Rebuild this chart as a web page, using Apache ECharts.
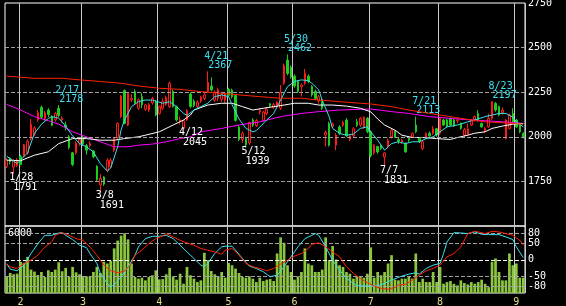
<!DOCTYPE html>
<html>
<head>
<meta charset="utf-8">
<script src="https://cdn.jsdelivr.net/npm/echarts@6/dist/echarts.min.js"></script>
<style>
  html, body { margin: 0; padding: 0; background: #000; }
  #chart { width: 566px; height: 306px; }
</style>
</head>
<body>
<div id="chart"></div>
<script>
// 営業日
var dates = [
  '1/26','1/27','1/28','1/31',
  '2/1','2/2','2/3','2/4','2/7','2/8','2/9','2/10','2/14','2/15','2/16','2/17','2/18','2/21','2/22','2/24','2/25','2/28',
  '3/1','3/2','3/3','3/4','3/7','3/8','3/9','3/10','3/11','3/14','3/15','3/16','3/17','3/18','3/22','3/23','3/24','3/25','3/28','3/29','3/30','3/31',
  '4/1','4/4','4/5','4/6','4/7','4/8','4/11','4/12','4/13','4/14','4/15','4/18','4/19','4/20','4/21','4/22','4/25','4/26','4/27','4/28',
  '5/2','5/6','5/9','5/10','5/11','5/12','5/13','5/16','5/17','5/18','5/19','5/20','5/23','5/24','5/25','5/26','5/27','5/30','5/31',
  '6/1','6/2','6/3','6/6','6/7','6/8','6/9','6/10','6/13','6/14','6/15','6/16','6/17','6/20','6/21','6/22','6/23','6/24','6/27','6/28','6/29','6/30',
  '7/1','7/4','7/5','7/6','7/7','7/8','7/11','7/12','7/13','7/14','7/15','7/19','7/20','7/21','7/22','7/25','7/26','7/27','7/28','7/29',
  '8/1','8/2','8/3','8/4','8/5','8/8','8/9','8/10','8/12','8/15','8/16','8/17','8/18','8/19','8/22','8/23','8/24','8/25','8/26','8/29','8/30','8/31',
  '9/1','9/2','9/5'
];

// 四本値
var opens = [1835,1880,1830,1840,1890,1890,1910,1990,2015,2095,2165,2100,2150,2115,2095,2160,2095,2065,2000,1910,1910,1965,
  1995,1950,1950,1920,1835,1730,1775,1813,1835,1925,1996,2113,2260,2066,2207,2254,2160,2226,2154,2150,2190,2197,
  2131,2160,2180,2169,2254,2169,2085,2047,2094,2240,2200,2170,2200,2215,2255,2285,2205,2216,2210,2205,
  2266,2262,2232,2054,1985,1990,1965,2095,2063,2140,2092,2130,2185,2165,2170,2160,2300,2430,2390,
  2340,2310,2280,2300,2340,2282,2255,2200,2207,2010,2075,2060,1953,2055,2065,2094,1985,2005,2085,2066,2050,2104,
  2028,1910,1945,1950,1887,1943,2000,2030,1985,1970,1962,1990,2000,2066,1990,1934,1995,2020,2020,2045,
  2019,2094,2094,2103,2094,2090,2075,2009,2015,2066,2094,2131,2075,2030,2056,2103,2188,2170,2135,1990,2047,2131,
  2094,2066,2019];
var closes = [1870,1860,1868,1870,1845,1955,1975,2070,2050,2135,2110,2135,2125,2065,2130,2120,2105,2055,1940,1845,1965,1985,
  1960,1925,1962,1888,1760,1766,1735,1869,1870,1991,2075,2229,2075,2244,2215,2188,2207,2179,2179,2180,2215,2122,
  2169,2197,2220,2301,2169,2094,2095,2090,2147,2170,2175,2195,2220,2235,2305,2263,2250,2263,2235,2240,
  2232,2225,2092,1985,2020,1955,2080,2065,2091,2148,2138,2155,2175,2180,2195,2250,2400,2355,2335,
  2285,2255,2290,2357,2310,2235,2215,2225,2160,2025,1953,2072,2010,2020,2080,2005,2005,2045,2065,2104,2110,2028,
  1895,1953,1915,1935,1910,1981,2037,2000,1975,1980,1916,1980,2019,2028,1975,1972,2019,2005,2045,2010,
  2103,2066,2060,2066,2060,2094,2047,2041,2045,2094,2113,2094,2056,2047,2103,2197,2150,2122,2150,2094,2122,2084,
  2056,2028,1996];
var lows = [1825,1845,1791,1830,1840,1885,1900,1980,2005,2085,2100,2090,2110,2060,2085,2110,2080,2035,1930,1835,1900,1950,
  1950,1900,1940,1880,1750,1691,1725,1800,1825,1915,1985,2105,2070,2060,2195,2180,2150,2160,2145,2140,2180,2115,
  2125,2150,2175,2160,2165,2085,2070,2045,2090,2160,2165,2160,2190,2205,2245,2255,2195,2200,2195,2190,
  2225,2215,2085,1975,1965,1939,1955,2055,2055,2125,2085,2120,2165,2155,2160,2150,2290,2345,2325,
  2275,2245,2225,2290,2300,2225,2205,2185,2150,1945,1945,2050,1925,2010,2055,2000,1975,1995,2055,2055,2045,2020,
  1885,1900,1905,1925,1831,1935,1990,1995,1960,1960,1910,1970,1995,2020,1965,1925,1990,2000,2010,2000,
  2010,2060,2050,2060,2055,2075,2040,2000,2005,2060,2085,2085,2050,2020,2050,2095,2140,2115,2125,1985,2040,2075,
  2050,2020,1990];
var highs = [1880,1885,1875,1880,1900,1960,1985,2100,2060,2150,2175,2145,2160,2120,2140,2178,2115,2085,2010,1915,1975,2000,
  2005,1960,1975,1925,1840,1790,1780,1880,1880,2000,2080,2235,2265,2250,2240,2267,2215,2245,2185,2190,2225,2205,
  2175,2215,2230,2310,2265,2175,2115,2095,2155,2250,2210,2205,2230,2245,2367,2333,2260,2275,2245,2250,
  2275,2270,2240,2065,2030,2000,2085,2105,2100,2160,2145,2165,2190,2190,2200,2290,2410,2462,2400,
  2350,2315,2300,2380,2350,2290,2265,2235,2215,2035,2085,2080,2020,2065,2090,2105,2012,2055,2100,2110,2115,2110,
  2035,1960,1950,1955,1915,1990,2045,2035,1995,1990,1970,2000,2025,2113,1995,1980,2025,2030,2060,2050,
  2110,2100,2100,2110,2100,2105,2080,2050,2075,2100,2120,2150,2080,2055,2130,2197,2195,2175,2165,2100,2130,2160,
  2100,2070,2025];

// 出来高
var volumes = [1600,2010,1880,1940,3130,3030,3630,2350,2150,1810,2110,1610,2280,2110,2350,3090,2180,2520,1670,2620,2080,1880,
  1710,1670,1670,2110,2620,2010,3130,2960,3230,4480,5260,5760,6000,5390,2960,1610,1440,1540,1270,1610,1780,2280,
  1370,1400,1880,2520,1670,1340,1940,930,2620,1780,1440,1100,1270,4040,3300,2210,1880,1670,2110,1540,
  3030,2790,2450,2010,1610,1540,1670,1440,1100,1540,1200,1340,1400,1200,3970,5590,5050,2790,2110,
  1340,1670,2110,4480,2960,2790,2110,2110,2350,5590,3300,4720,3360,2790,2620,2110,1940,1440,1670,1610,1540,1940,
  4580,1540,2110,1780,2110,2960,3800,1340,1270,1440,1440,1670,1440,3970,1100,1440,1100,1100,2110,1100,
  2620,930,1100,1200,930,760,1270,1000,860,1100,930,1100,1340,930,590,3130,3470,2110,1270,1270,3970,2790,
  2960,1540,1540];

// 移動平均線 [日番号, 値]
var maShort = [[0,1891],[3,1850],[6,1910],[8,2020],[10,2070],[12,2103],[13,2113],[15,2105],[17,2060],[19,2005],[21,1962],
  [23,1944],[25,1915],[27,1850],[29,1808],[30,1825],[32,1944],[33,2040],[34,2094],[36,2169],[38,2197],[40,2206],
  [42,2206],[45,2188],[47,2197],[49,2169],[51,2131],[52,2120],[54,2150],[56,2169],[58,2188],[60,2225],[62,2235],
  [64,2225],[65,2180],[67,2100],[69,2047],[71,2028],[72,2035],[75,2094],[77,2131],[79,2206],[81,2281],[83,2310],
  [85,2319],[87,2315],[88,2300],[90,2263],[91,2206],[93,2113],[94,2047],[96,2019],[98,2009],[100,2015],[102,2047],
  [104,2056],[105,2028],[107,1981],[109,1925],[111,1962],[113,1972],[115,1962],[117,1972],[119,1972],[121,1990],
  [123,2000],[125,2028],[127,2056],[130,2066],[133,2084],[136,2100],[138,2113],[140,2122],[142,2131],[144,2131],
  [146,2110],[147,2084],[149,2056]];
var maMid = [[0,1869],[4,1866],[8,1897],[12,1916],[15,1962],[19,1990],[23,1990],[27,1981],[31,1981],[34,1990],[38,2000],
  [40,2009],[44,2028],[48,2066],[51,2094],[53,2122],[54,2150],[58,2178],[62,2188],[65,2188],[68,2169],[71,2150],
  [74,2160],[77,2169],[80,2178],[83,2188],[87,2188],[90,2178],[94,2178],[98,2172],[102,2160],[105,2140],[107,2100],
  [109,2066],[112,2037],[114,2009],[117,1996],[120,1996],[124,1990],[128,1985],[130,1996],[133,2009],[135,2020],
  [138,2028],[140,2047],[143,2060],[146,2071],[149,2075]];
var maLong = [[0,2182],[4,2150],[8,2113],[12,2090],[15,2071],[19,2028],[23,2000],[27,1972],[31,1944],[35,1944],[38,1953],
  [42,1959],[46,1972],[50,1990],[53,2000],[56,2028],[62,2047],[67,2066],[73,2084],[79,2113],[85,2131],[90,2141],
  [96,2150],[102,2154],[105,2156],[111,2141],[116,2131],[122,2113],[128,2103],[134,2094],[138,2090],[143,2084],[149,2075]];
var maYear = [[0,2340],[8,2328],[16,2328],[21,2319],[27,2310],[33,2300],[38,2285],[44,2272],[50,2266],[56,2253],[62,2244],
  [67,2235],[73,2225],[79,2216],[85,2216],[90,2206],[96,2197],[102,2188],[105,2184],[111,2169],[116,2150],[122,2131],
  [128,2113],[134,2094],[138,2084],[143,2079],[149,2071]];

// オシレーター [日番号, 値]
var oscFast = [[0,-12],[1,-28],[3,-33],[5,-16],[7,19],[9,49],[11,74],[13,74],[15,81],[16,82],[17,74],[19,61],[21,44],
  [23,37],[24,19],[26,-11],[27,-41],[29,-71],[30,-81],[31,-76],[33,-51],[35,-21],[37,14],[38,39],[40,64],[42,71],
  [44,71],[46,74],[48,64],[50,44],[52,24],[54,4],[56,-16],[57,-21],[58,-11],[60,19],[62,39],[63,41],[65,41],[66,29],
  [68,4],[70,-19],[72,-26],[74,-36],[76,-51],[78,-46],[80,-21],[82,9],[84,39],[86,64],[88,74],[89,79],[90,74],
  [92,39],[94,-1],[96,-31],[98,-56],[100,-71],[101,-78],[103,-79],[105,-79],[107,-78],[109,-71],[111,-61],[113,-53],
  [114,-49],[116,-43],[118,-39],[119,-43],[121,-26],[123,-16],[125,-11],[126,19],[127,54],[129,82],[131,81],
  [133,79],[135,84],[137,77],[139,76],[142,76],[144,69],[146,61],[147,39],[149,7]];
var oscSlow = [[0,-12],[1,-21],[3,-26],[5,-11],[7,-1],[9,14],[11,39],[13,54],[14,74],[16,82],[18,74],[20,64],[22,59],
  [24,39],[26,14],[28,-16],[30,-33],[32,-39],[34,-34],[36,-11],[37,14],[39,29],[41,49],[43,64],[45,72],[46,79],
  [48,69],[50,59],[52,51],[54,44],[56,34],[58,29],[60,24],[62,17],[63,29],[65,34],[67,14],[69,-11],[71,-21],[73,-26],
  [75,-33],[77,-26],[79,-13],[81,-1],[83,11],[85,19],[87,34],[88,47],[90,51],[92,39],[94,24],[96,9],[98,-21],
  [100,-41],[102,-56],[104,-69],[106,-79],[108,-86],[110,-89],[112,-83],[113,-76],[115,-74],[117,-61],[119,-46],
  [121,-33],[123,-26],[125,-16],[127,9],[129,19],[131,39],[133,79],[135,86],[137,82],[138,79],[140,86],[142,84],
  [144,79],[146,74],[148,59],[149,44]];
var oscLevels = [80, 50, 0, -50, -80];
var priceLevels = [1750, 2000, 2250, 2500];

// 高値・安値の注記
var highMarks = [['2/17', 2178], ['4/21', 2367], ['5/30', 2462], ['7/21', 2113], ['8/23', 2197]];
var lowMarks = [['1/28', 1791], ['3/8', 1691], ['4/12', 2045], ['5/12', 1939], ['7/7', 1831]];

var MONO = 'DejaVu Sans Mono';
var CYAN = '#3ce0f0';
var GRAY = '#a0a0a0';

// 月初かどうか
function monthStart(index) {
  if (index === 0) return false;
  return dates[index].split('/')[0] !== dates[index - 1].split('/')[0];
}

var candles = dates.map(function (d, i) {
  return [opens[i], closes[i], lows[i], highs[i]];
});

function noteLabel(m, color, pos, lh) {
  return {
    show: true,
    position: pos,
    align: 'left',
    verticalAlign: 'top',
    formatter: '{d|' + m[0] + '}\n{v|' + m[1] + '}',
    rich: {
      d: { color: color, fontSize: 10, fontFamily: MONO, lineHeight: lh },
      v: { color: color, fontSize: 10, fontFamily: MONO, lineHeight: lh, padding: [0, 0, 0, 4] }
    }
  };
}

// 破線の水平線
function levelLines(levels, showLabel) {
  return {
    silent: true, symbol: ['none', 'none'],
    label: { show: showLabel, position: 'end', distance: 3, color: '#fff', fontSize: 10, fontFamily: MONO, formatter: '{c}' },
    data: levels.map(function (v) {
      return { yAxis: v, lineStyle: { color: v === 0 ? '#fff' : GRAY, type: 'dashed', dashOffset: 0, width: 1 } };
    })
  };
}

var chart = echarts.init(document.getElementById('chart'));

var option = {
  backgroundColor: '#000',
  animation: false,
  grid: [
    { left: 5, right: 41, top: 3, height: 223, show: true, borderColor: '#fff', borderWidth: 1, outerBoundsMode: 'none' },
    { left: 5, right: 41, top: 226, height: 67, show: true, borderColor: '#fff', borderWidth: 1, outerBoundsMode: 'none' }
  ],
  xAxis: [
    {
      type: 'category', gridIndex: 0, data: dates, boundaryGap: true,
      axisLine: { show: false }, axisTick: { show: false }, axisLabel: { show: false },
      splitLine: { show: true, interval: monthStart, lineStyle: { color: '#c8c8c8', width: 1 } }
    },
    {
      type: 'category', gridIndex: 1, data: dates, boundaryGap: true,
      axisLine: { show: false }, axisTick: { show: false },
      axisLabel: {
        interval: monthStart, margin: 4, color: '#e8de8a', fontSize: 10, fontFamily: MONO,
        formatter: function (v) { return v.split('/')[0]; }
      },
      splitLine: { show: true, interval: monthStart, lineStyle: { color: '#c8c8c8', width: 1 } }
    }
  ],
  yAxis: [
    {
      type: 'value', gridIndex: 0, position: 'right', min: 1500, max: 2750, interval: 250,
      axisLine: { show: false }, axisTick: { show: false },
      splitLine: { show: true, showMinLine: false, showMaxLine: false, lineStyle: { color: GRAY, type: 'dashed', width: 1 } },
      axisLabel: {
        color: '#fff', fontSize: 10, fontFamily: MONO, margin: 3, showMinLabel: false,
        formatter: function (v) { return String(v); }
      }
    },
    {
      type: 'value', gridIndex: 1, position: 'right', min: -100, max: 102, show: false
    },
    {
      type: 'value', gridIndex: 1, position: 'left', min: 0, max: 6730, interval: 6000,
      axisLine: { show: false }, axisTick: { show: false }, splitLine: { show: false },
      axisLabel: {
        inside: true, margin: 3, color: '#fff', fontSize: 10, fontFamily: MONO,
        formatter: function (v) { return v === 6000 ? '6000' : ''; }
      }
    }
  ],
  series: [
    {
      type: 'line', xAxisIndex: 0, yAxisIndex: 0, data: maYear, showSymbol: false, z: 10,
      lineStyle: { color: '#ff2200', width: 1 },
      markLine: levelLines(priceLevels, false)
    },
    {
      type: 'candlestick', xAxisIndex: 0, yAxisIndex: 0, data: candles, barWidth: 2, z: 2,
      itemStyle: { color: '#000', color0: '#1ecb1e', borderColor: '#ff1a1a', borderColor0: '#1ecb1e', borderWidth: 1 },
      markPoint: {
        symbol: 'circle', symbolSize: 1, silent: true,
        itemStyle: { color: 'rgba(0,0,0,0)' },
        data: highMarks.map(function (m) {
          return { coord: [m[0], m[1]], label: noteLabel(m, CYAN, [-3, -19], 9) };
        }).concat(lowMarks.map(function (m) {
          return { coord: [m[0], m[1]], label: noteLabel(m, '#fff', [-4, -1], 10) };
        }))
      }
    },
    { type: 'line', xAxisIndex: 0, yAxisIndex: 0, data: maLong, showSymbol: false, z: 3, lineStyle: { color: '#ff00ff', width: 1 } },
    { type: 'line', xAxisIndex: 0, yAxisIndex: 0, data: maMid, showSymbol: false, z: 3, lineStyle: { color: '#ffffff', width: 1 } },
    { type: 'line', xAxisIndex: 0, yAxisIndex: 0, data: maShort, showSymbol: false, z: 3, lineStyle: { color: CYAN, width: 1 } },
    {
      type: 'bar', xAxisIndex: 1, yAxisIndex: 2, data: volumes, barWidth: '78%', z: 1,
      itemStyle: { color: '#8cc63e' }
    },
    {
      type: 'line', xAxisIndex: 1, yAxisIndex: 1, data: oscFast, showSymbol: false, z: 5,
      lineStyle: { color: CYAN, width: 1 },
      markLine: levelLines(oscLevels, true)
    },
    { type: 'line', xAxisIndex: 1, yAxisIndex: 1, data: oscSlow, showSymbol: false, z: 5, lineStyle: { color: '#ff2200', width: 1 } }
  ]
};

chart.setOption(option);
</script>
</body>
</html>
